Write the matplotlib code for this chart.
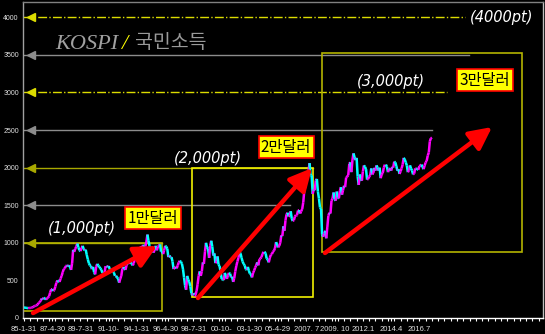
import numpy as np
import matplotlib
matplotlib.use('Agg')
import matplotlib.pyplot as plt
from matplotlib.collections import LineCollection
from matplotlib.patches import Rectangle
from matplotlib.ticker import MultipleLocator

# ---------------- data ----------------
start_year = 1985
kospi_close = [
    139, 138, 136, 133, 131, 133, 134, 135, 140, 150, 158, 163,
    165, 180, 200, 210, 230, 260, 250, 270, 260, 245, 260, 272,
    290, 340, 380, 385, 360, 370, 420, 470, 500, 490, 480, 525,
    560, 610, 650, 660, 690, 700, 690, 700, 680, 640, 730, 907,
    880, 920, 950, 990, 940, 900, 890, 930, 960, 920, 900, 909,
    840, 780, 730, 700, 690, 650, 680, 610, 580, 680, 720, 696,
    680, 660, 640, 600, 590, 600, 690, 690, 680, 690, 650, 610,
    630, 640, 600, 560, 560, 540, 520, 470, 520, 560, 650, 678,
    660, 640, 700, 730, 720, 760, 740, 720, 700, 730, 800, 866,
    900, 900, 880, 930, 950, 940, 970, 960, 950, 1010, 1110, 1027,
    960, 880, 920, 900, 870, 920, 960, 900, 950, 960, 980, 882,
    880, 850, 900, 960, 950, 920, 810, 830, 810, 810, 750, 651,
    670, 680, 660, 700, 740, 760, 750, 720, 650, 540, 430, 376,
    560, 510, 480, 420, 330, 300, 330, 310, 310, 360, 450, 562,
    620, 560, 620, 740, 720, 880, 1000, 940, 920, 800, 960, 1028,
    950, 830, 860, 730, 750, 820, 710, 690, 610, 520, 510, 504,
    600, 560, 520, 570, 600, 590, 540, 550, 480, 530, 620, 693,
    750, 800, 880, 860, 800, 750, 720, 700, 650, 640, 680, 627,
    590, 580, 540, 600, 630, 670, 700, 740, 700, 780, 790, 810,
    850, 880, 880, 860, 790, 780, 740, 800, 840, 850, 880, 896,
    930, 1010, 970, 940, 960, 1000, 1100, 1090, 1220, 1160, 1300, 1379,
    1400, 1350, 1360, 1420, 1320, 1290, 1300, 1350, 1370, 1370, 1430, 1434,
    1390, 1420, 1450, 1540, 1700, 1750, 1930, 1870, 1950, 2060, 1900, 1897,
    1650, 1710, 1700, 1830, 1850, 1680, 1590, 1470, 1450, 1110, 1080, 1124,
    1160, 1060, 1210, 1360, 1400, 1390, 1560, 1590, 1670, 1580, 1560, 1682,
    1600, 1590, 1690, 1740, 1640, 1700, 1760, 1740, 1870, 1880, 1900, 2051,
    2070, 1940, 2100, 2190, 2140, 2100, 2130, 1880, 1770, 1910, 1850, 1826,
    1950, 2030, 2010, 1980, 1840, 1850, 1880, 1900, 1990, 1910, 1930, 1997,
    1960, 2030, 2000, 1960, 2000, 1860, 1910, 1930, 2000, 2040, 2040, 2011,
    1940, 1980, 1990, 1960, 2010, 2000, 2080, 2070, 2020, 1960, 1980, 1916,
    1950, 1990, 2040, 2130, 2110, 2070, 2030, 1940, 1960, 2030, 1990, 1961,
    1910, 1920, 1990, 1990, 1980, 1970, 2020, 2030, 2040, 2010, 1980, 2026,
    2070, 2090, 2160, 2200, 2350, 2390, 2400,
]

xtick_labels = ['85-1-31', '87-4-30', '89-7-31', '91-10-', '94-1-31', '96-4-30',
                '98-7-31', '00-10-', '03-1-30', '05-4-29', '2007. 7', '2009. 10',
                '2012.1', '2014.4', '2016.7']
ytick_values = [0, 500, 1000, 1500, 2000, 2500, 3000, 3500, 4000]

level_values = [1000, 1500, 2000, 2500, 3000, 3500, 4000]
level_ends = [1996.0, 2006.2, 2008.03, 2017.5, 2018.7, 2020.46, 2020.14]
level_colors = ['#a8a800', '#8c8c8c', '#a8a800', '#8c8c8c', '#dcdc00', '#8c8c8c', '#dcdc00']
level_styles = ['-', '-', '-', '-', '-.', '-', '-.']

box_x0 = [1984.92, 1998.39, 2008.75]
box_x1 = [1996.0, 2008.03, 2024.68]
box_y0 = [93, 280, 878]
box_y1 = [1000, 2000, 3525]
box_colors = ['#b4b400', '#f0f000', '#b4b400']

arrow_x0 = [1985.72, 1998.86, 2008.98]
arrow_y0 = [66, 266, 865]
arrow_x1 = [1995.6, 2007.95, 2022.29]
arrow_y1 = [958, 1995, 2540]

pt_labels = ['(1,000pt)', '(2,000pt)', '(3,000pt)', '(4000pt)']
pt_x = [1989.6, 1999.66, 2014.24, 2023.09]
pt_y = [1197, 2128, 3152, 4003]

income_labels = ['1만달러', '2만달러', '3만달러']
income_x = [1995.28, 2005.88, 2021.73]
income_y = [1330, 2274, 3165]

# ---------------- figure ----------------
fig = plt.figure(figsize=(5.45, 3.34), dpi=100, facecolor='black')
ax = fig.add_axes([23 / 545, 1 - 318 / 334, 520 / 545, 316 / 334])
ax.set_facecolor('black')
ax.set_xlim(1984.92, 2026.35)
ax.set_ylim(0, 4203)

# level lines with left arrow heads
for lv, xe, c, ls in zip(level_values, level_ends, level_colors, level_styles):
    ax.plot([1984.95, xe], [lv, lv], color=c, ls=ls, lw=1.0, zorder=2)
    ax.plot([1985.55], [lv], marker='<', color=c, markersize=6, zorder=3)

# boxes
for x0, x1, y0, y1, c in zip(box_x0, box_x1, box_y0, box_y1, box_colors):
    ax.add_patch(Rectangle((x0, y0), x1 - x0, y1 - y0, fill=False, ec=c, lw=1.2, zorder=2))

# price line coloured by direction
t = start_year + np.arange(len(kospi_close)) / 12
v = np.array(kospi_close, dtype=float)
segs = [[(t[i - 1], v[i - 1]), (t[i], v[i])] for i in range(1, len(v))]
cols = ['#ff00ff' if v[i] >= v[i - 1] else '#00ffff' for i in range(1, len(v))]
ax.add_collection(LineCollection(segs, colors=cols, linewidths=1.8, zorder=4))

# red arrows
for x0, y0, x1, y1 in zip(arrow_x0, arrow_y0, arrow_x1, arrow_y1):
    ax.annotate('', xy=(x1, y1), xytext=(x0, y0),
                arrowprops=dict(arrowstyle='-|>,head_length=0.9,head_width=0.45',
                                color='#ff0000', lw=3.2, mutation_scale=15,
                                shrinkA=0, shrinkB=0), zorder=5)

# text labels
for s, x, y in zip(pt_labels, pt_x, pt_y):
    ax.text(x, y, s, ha='center', va='center', color='white', fontsize=10.5,
            style='italic', family='DejaVu Sans', zorder=6)

for s, x, y in zip(income_labels, income_x, income_y):
    ax.text(x, y, s, ha='center', va='center', color='black', fontsize=11,
            family=['Noto Sans CJK KR', 'DejaVu Sans'], zorder=7,
            bbox=dict(boxstyle='square,pad=0.15', fc='#ffff00', ec='#ff0000', lw=1.2))

# title
ax.text(1987.47, 3644, 'KOSPI', ha='left', va='center', color='#a0a0a0',
        fontsize=16, style='italic', family='Liberation Serif', zorder=6)
ax.text(1992.73, 3644, '/', ha='left', va='center', color='#ffff00',
        fontsize=16, style='italic', family='Liberation Serif', zorder=6)
ax.text(1993.84, 3660, '국민소득', ha='left', va='center', color='#9a9a9a',
        fontsize=14, family=['Noto Sans CJK KR'], zorder=6)

# axes styling
xtick_pos = [start_year + 27 * k / 12 for k in range(len(xtick_labels))]
ax.set_xticks(xtick_pos)
ax.set_xticklabels(xtick_labels, family='Liberation Sans')
ax.xaxis.set_minor_locator(MultipleLocator(0.5))
ax.set_yticks(ytick_values)
ax.set_yticklabels([str(y) for y in ytick_values], family='Liberation Sans')
ax.tick_params(axis='x', which='both', colors='white', length=2, width=0.8,
               labelsize=5.5, pad=4, labelcolor='#e0e0e0')
ax.tick_params(axis='y', colors='white', length=0, labelsize=5, pad=3,
               labelcolor='#e0e0e0')
ax.spines['left'].set_color('#a0a0a0')
ax.spines['bottom'].set_color('white')
ax.spines['top'].set_color('#808080')
ax.spines['right'].set_color('#c0c0c0')
for sp in ax.spines.values():
    sp.set_linewidth(1.0)

fig.savefig('out.png', dpi=100, facecolor='black')
